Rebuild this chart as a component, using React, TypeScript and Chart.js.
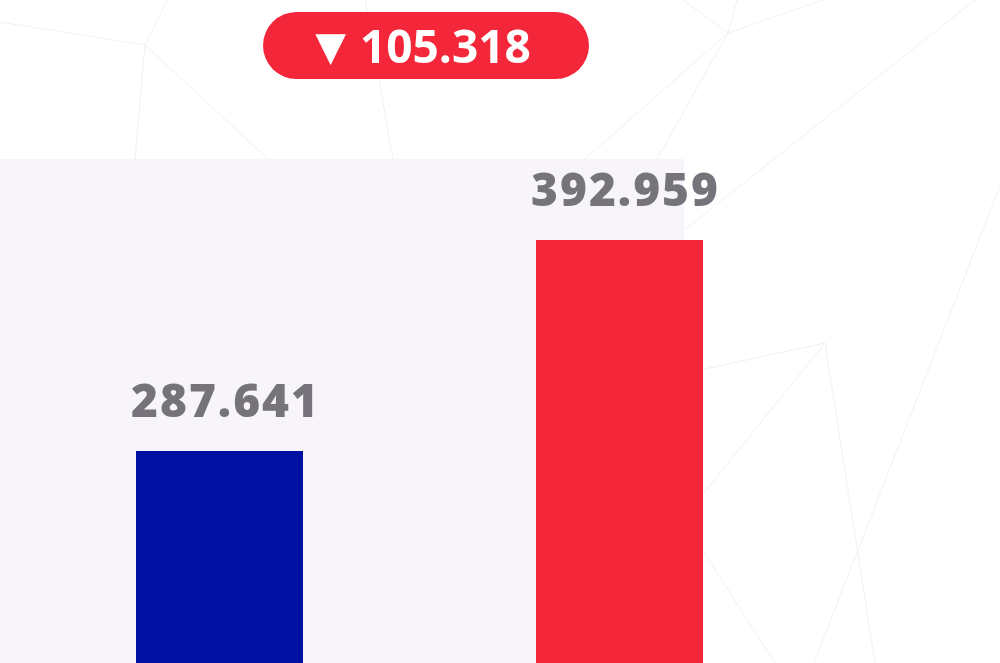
import React, { useEffect, useRef } from "react";
import { Chart, registerables } from "chart.js";

Chart.register(...registerables);

const categories = ["Anterior", "Atual"];
const values = [287.641, 392.959];
const barColors = ["#0010a0", "#f4273a"];
const yMin = 181.82;
const yMax = 512.75;

// decorative faint background polygon lines
const bgLines: number[][] = [
  [0, 22, 145, 45],
  [145, 45, 167, 0],
  [145, 45, 135, 159],
  [145, 45, 268, 159],
  [365, 0, 393, 159],
  [683, 0, 728, 33],
  [737, 0, 728, 33],
  [728, 33, 823, 0],
  [728, 33, 585, 159],
  [728, 33, 657, 159],
  [975, 0, 683, 231],
  [1010, 160, 814, 663],
  [825, 343, 640, 383],
  [825, 343, 640, 572],
  [825, 343, 875, 663],
  [680, 515, 775, 663],
];

const bgPlugin = {
  id: "bgPlugin",
  beforeDraw(chart: any) {
    const ctx = chart.ctx;
    ctx.save();
    ctx.fillStyle = "#ffffff";
    ctx.fillRect(0, 0, chart.width, chart.height);
    ctx.strokeStyle = "#f1f1f1";
    ctx.lineWidth = 1;
    bgLines.forEach((l) => {
      ctx.beginPath();
      ctx.moveTo(l[0], l[1]);
      ctx.lineTo(l[2], l[3]);
      ctx.stroke();
    });
    ctx.fillStyle = "#f7f5f9";
    ctx.fillRect(0, 159, 684, chart.height - 159);
    ctx.restore();
  },
  afterDatasetsDraw(chart: any) {
    const ctx = chart.ctx;
    const meta = chart.getDatasetMeta(0);
    ctx.save();
    ctx.font = '800 46px "Open Sans"';
    ctx.fillStyle = "#76747a";
    ctx.textAlign = "center";
    ctx.textBaseline = "alphabetic";
    try {
      (ctx as any).letterSpacing = "2px";
    } catch (e) {}
    meta.data.forEach((bar: any, i: number) => {
      ctx.fillText(values[i].toFixed(3), bar.x + 6, bar.y - 34);
    });
    ctx.restore();
  },
};

export default function App() {
  const ref = useRef<HTMLCanvasElement | null>(null);
  useEffect(() => {
    if (!ref.current) return;
    const chart = new Chart(ref.current, {
      type: "bar",
      data: {
        labels: categories,
        datasets: [
          {
            data: values,
            backgroundColor: barColors,
            borderWidth: 0,
            categoryPercentage: 1,
            barPercentage: 0.4175,
          },
        ],
      },
      options: {
        animation: false,
        responsive: false,
        maintainAspectRatio: false,
        layout: { padding: { left: 19.5, right: 180.5, top: 0, bottom: 0 } },
        plugins: {
          legend: { display: false },
          tooltip: { enabled: false },
          title: { display: false },
        },
        scales: {
          x: { display: false },
          y: { display: false, min: yMin, max: yMax },
        },
      },
      plugins: [bgPlugin],
    });
    return () => chart.destroy();
  }, []);

  const diff = Math.abs(values[1] - values[0]).toFixed(3);
  const down = values[0] < values[1];

  return (
    <div style={{ position: "absolute", left: 0, top: 0, width: 1000, height: 663, overflow: "hidden" }}>
      <canvas ref={ref} width={1000} height={663} style={{ display: "block" }} />
      <div
        style={{
          position: "absolute",
          left: 263,
          top: 12,
          width: 326,
          height: 67,
          borderRadius: 34,
          background: "#f4273a",
          color: "#ffffff",
          display: "flex",
          alignItems: "center",
          justifyContent: "center",
          fontFamily: '"Open Sans", sans-serif',
          fontWeight: 700,
          fontSize: 46,
          lineHeight: "67px",
          paddingRight: 6,
          boxSizing: "border-box",
        }}
      >
        <span style={{ fontFamily: '"DejaVu Sans"', fontSize: 40, marginRight: 14, position: "relative", top: 1 }}>
          {down ? "▼" : "▲"}
        </span>
        <span>{diff}</span>
      </div>
    </div>
  );
}
